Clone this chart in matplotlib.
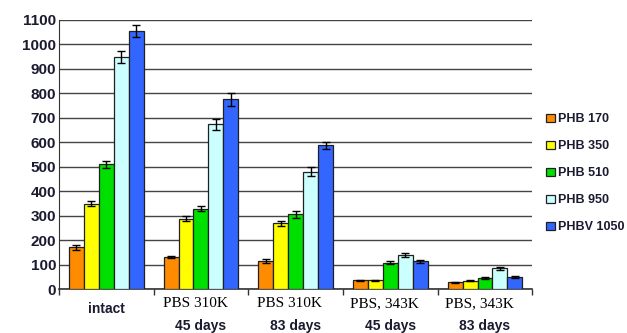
import numpy as np
import matplotlib.pyplot as plt

groups = ["intact", "PBS 310K", "PBS 310K", "PBS, 343K", "PBS, 343K"]
days = ["", "45 days", "83 days", "45 days", "83 days"]
series = ["PHB 170", "PHB 350", "PHB 510", "PHB 950", "PHBV 1050"]
colors = ["#FF8C00", "#FFFF00", "#00E000", "#CCFFFF", "#3366FF"]

values = [
    [170, 130, 115, 36, 28],
    [348, 288, 268, 36, 33],
    [510, 328, 305, 107, 46],
    [950, 673, 480, 140, 84],
    [1055, 775, 588, 113, 50],
]
errors = [
    [10, 4, 8, 2, 2],
    [10, 10, 12, 2, 2],
    [15, 10, 14, 6, 3],
    [25, 22, 18, 8, 6],
    [25, 25, 14, 7, 4],
]

text_col = "#1a1a30"

fig = plt.figure(figsize=(6.27, 3.33), dpi=100)
ax = fig.add_axes([0.094, 0.132, 0.755, 0.808])

x = np.arange(len(groups))
w = 0.158
for i, s in enumerate(series):
    pos = x - 2 * w + i * w
    ax.bar(pos, values[i], w, color=colors[i], edgecolor="#202020",
           linewidth=0.9, label=s, zorder=3,
           yerr=errors[i], capsize=3,
           error_kw=dict(ecolor="black", elinewidth=1, capthick=1, zorder=4))

ax.set_xlim(-0.5, len(groups) - 0.5)
ax.set_ylim(0, 1100)
ax.set_yticks(np.arange(0, 1101, 100))
ax.yaxis.grid(True, color="#444444", linewidth=1.0, zorder=0)
ax.set_axisbelow(True)
ax.tick_params(axis="y", length=0, pad=2, labelsize=11, labelcolor=text_col)
for lab in ax.get_yticklabels():
    lab.set_fontweight("bold")
    lab.set_family("Liberation Sans")

# category separators on the x axis
ax.set_xticks(np.arange(-0.5, len(groups)))
ax.set_xticklabels([])
ax.tick_params(axis="x", length=4, width=1, color="#333333", direction="out")

for side in ["top", "right"]:
    ax.spines[side].set_visible(False)
ax.spines["left"].set_color("#333333")
ax.spines["bottom"].set_color("#333333")
ax.spines["bottom"].set_linewidth(1.2)

tr = ax.get_xaxis_transform()
for i, (g, d) in enumerate(zip(groups, days)):
    if g == "intact":
        ax.text(i, -0.05, g, transform=tr, ha="center", va="top",
                fontsize=10, fontweight="bold", family="Liberation Sans",
                color=text_col)
    else:
        ax.text(i - 0.06, -0.03, g, transform=tr, ha="center", va="top",
                fontsize=11, family="Liberation Serif", color="black")
    if d:
        ax.text(i, -0.11, d, transform=tr, ha="center", va="top",
                fontsize=10, fontweight="bold", family="Liberation Sans",
                color=text_col)

leg = ax.legend(loc="upper left", bbox_to_anchor=(1.005, 0.695), frameon=False,
                handlelength=0.7, handleheight=0.7, handletextpad=0.3,
                labelspacing=1.2, prop={"family": "Liberation Sans",
                                        "weight": "bold", "size": 9})
for t in leg.get_texts():
    t.set_color(text_col)

fig.savefig("out.png", dpi=100)
